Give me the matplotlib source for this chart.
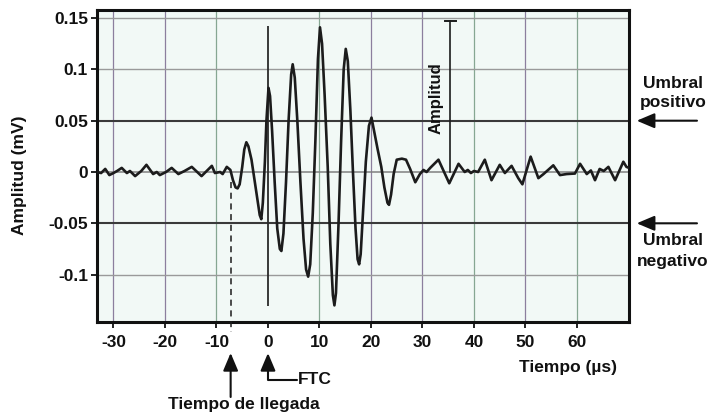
import matplotlib
matplotlib.use('Agg')
import matplotlib.pyplot as plt

# ---- data ----
time_us = [-33.2, -32.4, -31.6, -30.8, -30.0, -29.3, -28.4, -27.4, -26.8, -25.8,
           -24.6, -23.6, -22.3, -21.6, -21.0, -19.8, -18.7, -17.4, -16.2, -14.8,
           -12.9, -10.9, -10.3, -9.3, -8.8, -8.0, -7.3, -6.8, -6.3, -5.9,
           -5.5, -5.0, -4.6, -4.2, -3.8, -3.2, -2.6, -2.0, -1.6, -1.3,
           -1.0, -0.6, -0.3, 0.1, 0.4, 0.8, 1.3, 1.8, 2.3, 2.6,
           3.0, 3.5, 4.0, 4.5, 4.8, 5.2, 5.7, 6.3, 6.9, 7.4,
           7.8, 8.2, 8.7, 9.2, 9.7, 10.1, 10.5, 11.0, 11.6, 12.1,
           12.6, 12.9, 13.2, 13.7, 14.2, 14.7, 15.1, 15.5, 16.0, 16.5,
           17.0, 17.4, 17.7, 18.0, 18.5, 19.0, 19.6, 20.1, 20.6, 21.3,
           22.0, 22.6, 23.2, 23.5, 23.9, 24.4, 25.0, 26.0, 26.8, 27.6,
           28.6, 29.5, 30.2, 30.8, 31.5, 33.1, 34.2, 35.2, 37.0, 38.2,
           38.8, 39.4, 40.0, 40.8, 42.1, 43.4, 45.0, 46.0, 47.3, 48.6,
           49.4, 51.0, 52.5, 53.5, 55.4, 56.7, 58.0, 59.6, 60.6, 61.9,
           62.7, 63.5, 64.4, 65.2, 66.1, 67.4, 69.0, 69.6, 70.1]
amplitude_mv = [0.000, -0.001, 0.003, -0.003, -0.001, 0.001, 0.004, -0.001, 0.001, -0.004,
                0.001, 0.007, -0.002, 0.000, -0.003, 0.000, 0.004, -0.002, 0.001, 0.005,
                -0.004, 0.006, -0.001, 0.000, -0.002, 0.005, 0.002, -0.008, -0.015, -0.016,
                -0.012, 0.005, 0.022, 0.029, 0.025, 0.012, -0.008, -0.028, -0.042, -0.046,
                -0.030, 0.010, 0.050, 0.082, 0.074, 0.040, -0.010, -0.055, -0.075, -0.077,
                -0.060, -0.010, 0.050, 0.095, 0.105, 0.092, 0.050, -0.010, -0.065, -0.095,
                -0.102, -0.090, -0.040, 0.030, 0.110, 0.141, 0.125, 0.075, 0.005, -0.070,
                -0.120, -0.130, -0.118, -0.050, 0.030, 0.100, 0.120, 0.108, 0.060, 0.000,
                -0.055, -0.085, -0.090, -0.080, -0.035, 0.010, 0.045, 0.053, 0.040, 0.022,
                0.005, -0.015, -0.030, -0.032, -0.022, -0.002, 0.012, 0.013, 0.012, 0.003,
                -0.010, -0.002, 0.002, 0.000, 0.004, 0.012, 0.000, -0.011, 0.008, 0.000,
                0.002, -0.001, 0.001, 0.000, 0.012, -0.008, 0.007, -0.001, 0.006, -0.006,
                -0.012, 0.015, -0.006, -0.002, 0.0065, -0.003, -0.002, -0.0015, 0.008, -0.002,
                0.0015, -0.008, 0.003, 0.001, 0.005, -0.008, 0.010, 0.005, 0.004]

x_ticks = [-30, -20, -10, 0, 10, 20, 30, 40, 50, 60]
x_tick_labels = ['-30', '-20', '-10', '0', '10', '20', '30', '40', '50', '60']
y_ticks = [-0.1, -0.05, 0, 0.05, 0.1, 0.15]
y_tick_labels = ['-0.1', '-0.05', '0', '0.05', '0.1', '0.15']

threshold_pos = 0.05
threshold_neg = -0.05
arrival_time = -7.25
ftc_time = 0.0
amplitude_marker_x = 35.3
amplitude_marker_top = 0.1475

plt.rcParams['font.family'] = ['Liberation Sans', 'DejaVu Sans']
plt.rcParams['font.weight'] = 'bold'

fig = plt.figure(figsize=(7.13, 4.13), dpi=100)
ax = fig.add_axes([97/713, 1-322/413, (629-97)/713, (322-10)/413])
ax.set_facecolor('#f2f9f6')
ax.set_xlim(-33.2, 70.1)
ax.set_ylim(-0.1462, 0.1579)

# grid
vgrid_colors = ['#8c7f9e', '#8c7f9e', '#86a792', None, '#86a792',
                '#8c7f9e', '#8c7f9e', '#86a792', '#8c7f9e', '#86a792']
for xt, c in zip(x_ticks, vgrid_colors):
    if c is not None:
        ax.axvline(xt, color=c, lw=0.9, zorder=1)
for yt in y_ticks:
    if yt in (threshold_pos, threshold_neg):
        ax.axhline(yt, color='#3a3a3a', lw=1.5, zorder=1)
    elif yt == 0:
        ax.axhline(yt, color='#808080', lw=1.1, zorder=1)
    else:
        ax.axhline(yt, color='#9a9a9a', lw=1.0, zorder=1)

# FTC vertical line
ax.vlines(ftc_time, -0.131, 0.142, color='#2a2a2a', lw=1.3, zorder=2)

# waveform
ax.plot(time_us, amplitude_mv, color='#1c1c1c', lw=1.9, zorder=3,
        solid_joinstyle='round')

# arrival dashed line
ax.plot([arrival_time, arrival_time], [-0.0094, -0.156], color='#1c1c1c',
        lw=1.1, ls=(0, (4, 3)), zorder=3, clip_on=False)

# amplitude marker
ax.plot([amplitude_marker_x, amplitude_marker_x], [0, amplitude_marker_top],
        color='#1c1c1c', lw=1.2, zorder=4)
ax.plot([amplitude_marker_x - 1.0, amplitude_marker_x + 1.3],
        [amplitude_marker_top, amplitude_marker_top], color='#1c1c1c', lw=1.4, zorder=4)
ax.text(32.6, 0.072, 'Amplitud', rotation=90, ha='center', va='center',
        fontsize=12, fontweight='bold', color='#111111')

# ticks
ax.set_xticks(x_ticks)
ax.set_xticklabels(x_tick_labels)
ax.set_yticks(y_ticks)
ax.set_yticklabels(y_tick_labels)
ax.tick_params(axis='both', direction='out', length=4.5, width=1.3,
               labelsize=12.5, colors='#111111')
ax.tick_params(axis='x', pad=5)
ax.tick_params(axis='y', pad=2)
for lab in ax.get_xticklabels() + ax.get_yticklabels():
    lab.set_fontweight('bold')
for sp in ax.spines.values():
    sp.set_linewidth(2.2)
    sp.set_color('#111111')

fig.text(20/713, 1-175/413, 'Amplitud (mV)', rotation=90, ha='center', va='center',
         fontsize=12.5, fontweight='bold', color='#111111')

arrow_kw = dict(arrowstyle='-|>,head_length=0.9,head_width=0.38', color='#111111',
                lw=1.5, mutation_scale=12, shrinkA=0, shrinkB=0)

# Tiempo de llegada arrow
ax.annotate('', xy=(arrival_time, -0.1764), xytext=(arrival_time, -0.2193),
            arrowprops=arrow_kw, annotation_clip=False)
ax.text(-4.75, -0.2265, 'Tiempo de llegada', ha='center', va='center',
        fontsize=12.5, fontweight='bold', color='#111111')

# FTC elbow arrow
ax.annotate('', xy=(ftc_time, -0.1764), xytext=(5.6, -0.2027),
            arrowprops=dict(connectionstyle='angle,angleA=0,angleB=90,rad=0', **arrow_kw),
            annotation_clip=False)
ax.text(5.9, -0.2027, 'FTC', ha='left', va='center',
        fontsize=12.5, fontweight='bold', color='#111111')

ax.text(58.3, -0.191, 'Tiempo (µs)', ha='center', va='center',
        fontsize=12.5, fontweight='bold', color='#111111')

# threshold arrows
for yv in (threshold_pos, threshold_neg):
    ax.annotate('', xy=(71.6, yv), xytext=(83.3, yv), arrowprops=arrow_kw,
                annotation_clip=False)
ax.text(78.6, 0.0867, 'Umbral', ha='center', va='center', fontsize=12.5,
        fontweight='bold', color='#111111')
ax.text(78.6, 0.0680, 'positivo', ha='center', va='center', fontsize=12.5,
        fontweight='bold', color='#111111')
ax.text(78.6, -0.0663, 'Umbral', ha='center', va='center', fontsize=12.5,
        fontweight='bold', color='#111111')
ax.text(78.6, -0.0877, 'negativo', ha='center', va='center', fontsize=12.5,
        fontweight='bold', color='#111111')

fig.savefig('out.png', dpi=100)
